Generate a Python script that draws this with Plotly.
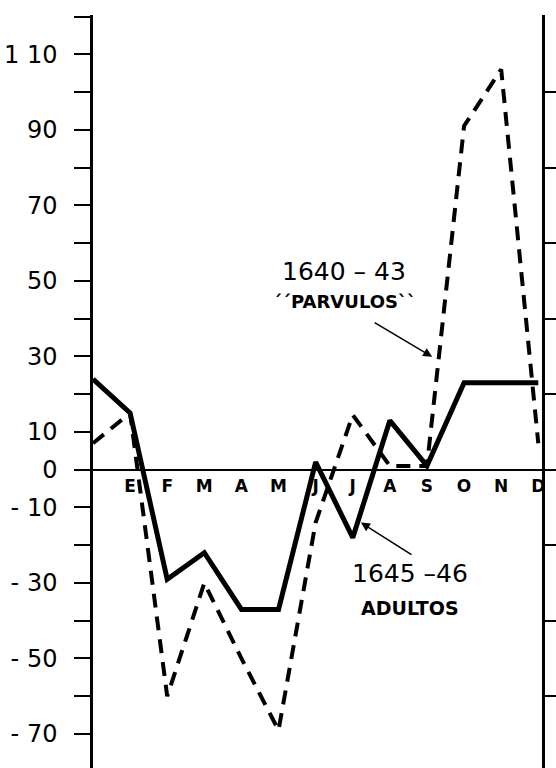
import plotly.graph_objects as go

# ---- data ----
months = ["E", "F", "M", "A", "M", "J", "J", "A", "S", "O", "N", "D"]
month_pos = list(range(1, 13))
x_idx = list(range(0, 13))  # 0 = December of the previous year (left edge)
adultos_1645_46 = [24, 15, -29, -22, -37, -37, 2, -18, 13, 1, 23, 23, 23]
parvulos_1640_43 = [7, 15, -60, -30, -50, -69, -14, 14.5, 1, 1, 91, 106, 7]

left_tick_vals = list(range(-70, 121, 10))
left_tick_text = {110: "1 10", 90: "90", 70: "70", 50: "50", 30: "30", 10: "10", 0: "0",
                  -10: "- 10", -30: "- 30", -50: "- 50", -70: "- 70"}
right_tick_vals = list(range(-60, 101, 20))

y_range = [-79, 120.4]
x_range = [0, 12.1]

FONT = "DejaVu Sans"

fig = go.Figure()

fig.add_trace(go.Scatter(
    x=x_idx, y=parvulos_1640_43, mode="lines",
    line=dict(color="black", width=4, dash="14px,9px"),
    hoverinfo="skip", showlegend=False))
fig.add_trace(go.Scatter(
    x=x_idx, y=adultos_1645_46, mode="lines",
    line=dict(color="black", width=5),
    hoverinfo="skip", showlegend=False))
# invisible trace to create the right-hand axis
fig.add_trace(go.Scatter(
    x=[0], y=[0], yaxis="y2", mode="markers", marker=dict(opacity=0),
    hoverinfo="skip", showlegend=False))

fig.update_layout(
    width=556, height=768,
    margin=dict(l=93, r=14, t=15, b=0),
    paper_bgcolor="white", plot_bgcolor="white",
    showlegend=False,
    font=dict(family=FONT, color="black"),
    xaxis=dict(
        range=x_range, showgrid=False, zeroline=False, showline=False,
        tickvals=month_pos, ticktext=months, ticks="",
        tickfont=dict(family=FONT, size=17, weight="bold", color="black"),
        anchor="free", position=(0 - y_range[0]) / (y_range[1] - y_range[0]),
        ticklabelstandoff=4,
    ),
    yaxis=dict(
        range=y_range, showgrid=False,
        zeroline=True, zerolinecolor="black", zerolinewidth=2,
        showline=True, linecolor="black", linewidth=2.5,
        tickvals=left_tick_vals,
        ticktext=[left_tick_text.get(v, "") for v in left_tick_vals],
        ticks="outside", ticklen=16, tickwidth=2, tickcolor="black",
        tickfont=dict(family=FONT, size=24, color="black"),
        ticklabelstandoff=12,
    ),
    yaxis2=dict(
        range=y_range, overlaying="y", side="right", anchor="x",
        showgrid=False, zeroline=False,
        showline=True, linecolor="black", linewidth=2.5,
        tickvals=right_tick_vals, showticklabels=False,
        ticks="outside", ticklen=14, tickwidth=2, tickcolor="black",
    ),
)

# annotations
fig.add_annotation(x=6.77, y=52.6, text="1640 – 43", showarrow=False,
                   font=dict(family=FONT, size=25, color="black"))
fig.add_annotation(x=6.77, y=44.5, text="´´PARVULOS``", showarrow=False,
                   font=dict(family=FONT, size=18, weight="bold", color="black"))
fig.add_annotation(x=9.14, y=29.9, ax=-59, ay=-35, text="", showarrow=True,
                   arrowhead=2, arrowsize=1.2, arrowwidth=1.5, arrowcolor="black")

fig.add_annotation(x=8.54, y=-27.5, text="1645 –46", showarrow=False,
                   font=dict(family=FONT, size=25, color="black"))
fig.add_annotation(x=8.54, y=-36.5, text="ADULTOS", showarrow=False,
                   font=dict(family=FONT, size=19, weight="bold", color="black"))
fig.add_annotation(x=7.22, y=-14, ax=52, ay=33, text="", showarrow=True,
                   arrowhead=2, arrowsize=1.2, arrowwidth=1.5, arrowcolor="black")

fig.write_html("out.html", config={"displayModeBar": False},
               post_script="document.body.style.margin='0';")
